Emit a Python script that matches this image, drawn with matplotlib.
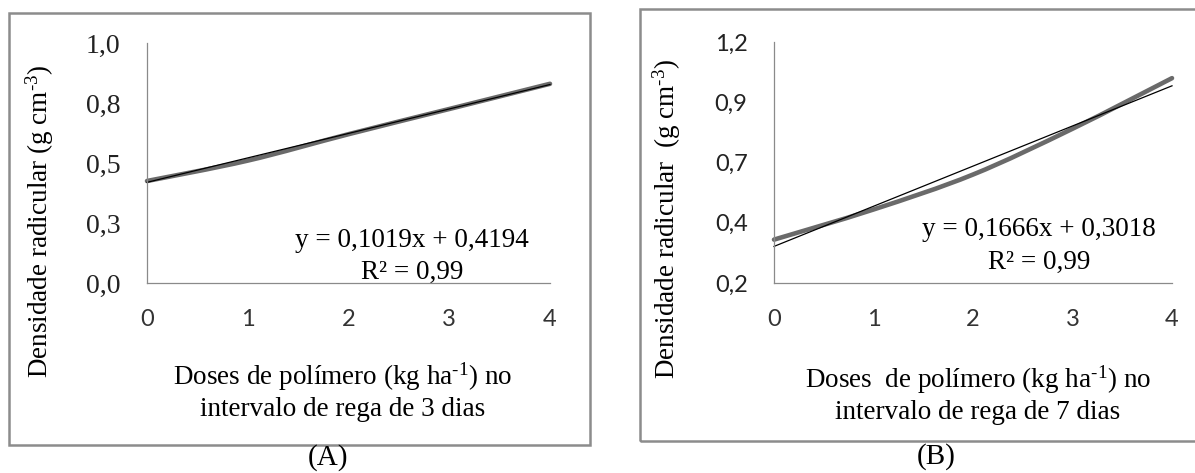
import matplotlib
matplotlib.use("Agg")
import numpy as np
import matplotlib.pyplot as plt
from matplotlib.path import Path
from matplotlib.patches import PathPatch, Rectangle

# data
doses = [0, 1, 2, 3, 4]
dens_3d = [0.425, 0.51, 0.62, 0.725, 0.83]
dens_7d = [0.33, 0.455, 0.60, 0.79, 1.0]
fit_3d = (0.1019, 0.4194)
fit_7d = (0.1666, 0.3018)

yticks_3d = [0.0, 0.25, 0.5, 0.75, 1.0]
ylabels_3d = ["0,0", "0,3", "0,5", "0,8", "1,0"]
yticks_7d = [0.15, 0.4, 0.65, 0.9, 1.15]
ylabels_7d = ["0,2", "0,4", "0,7", "0,9", "1,2"]
xticks = [0, 1, 2, 3, 4]

W, H = 1195, 473
SERIF = "Liberation Serif"
SANS = "Lato"

plt.rcParams["mathtext.fontset"] = "custom"
plt.rcParams["mathtext.rm"] = SERIF
plt.rcParams["mathtext.it"] = SERIF


def fx(px):
    return px / W


def fy(py):
    return 1 - py / H


def smooth_path(x, y):
    # excel-like smoothed line: bezier segments through the points
    pts = np.column_stack([x, y]).astype(float)
    ext = np.vstack([pts[0], pts, pts[-1]])
    verts = [pts[0]]
    codes = [Path.MOVETO]
    for i in range(1, len(ext) - 2):
        p0, p1, p2, p3 = ext[i - 1], ext[i], ext[i + 1], ext[i + 2]
        c1 = p1 + (p2 - p0) / 6.0
        c2 = p2 - (p3 - p1) / 6.0
        verts += [c1, c2, p2]
        codes += [Path.CURVE4] * 3
    return Path(verts, codes)


def panel(rect, y_vals, fit, yticks, ylabels, ylim, ytick_font, ytick_size):
    ax = fig.add_axes(rect)
    ax.set_xlim(0, 4)
    ax.set_ylim(*ylim)
    for s in ["top", "right"]:
        ax.spines[s].set_visible(False)
    for s in ["left", "bottom"]:
        ax.spines[s].set_color("#8a8a8a")
        ax.spines[s].set_linewidth(0.9)
    ax.set_xticks(xticks)
    ax.set_xticklabels([str(v) for v in xticks], fontfamily=SANS, fontsize=17, color="#333333")
    ax.set_yticks(yticks)
    ax.set_yticklabels(ylabels, fontfamily=ytick_font, fontsize=ytick_size, color="#222222")
    ax.tick_params(axis="x", length=0, pad=19)
    ax.tick_params(axis="y", length=0, pad=19)

    patch = PathPatch(smooth_path(doses, y_vals), fill=False, edgecolor="#6a6a6a",
                      linewidth=3.3, capstyle="round", clip_on=False)
    ax.add_patch(patch)
    xs = np.array([0, 4])
    ax.plot(xs, fit[0] * xs + fit[1], color="black", linewidth=0.9, clip_on=False)
    return ax


fig = plt.figure(figsize=(W / 100, H / 100), dpi=100)

# outer frames
fig.patches.append(Rectangle((fx(9), fy(445)), fx(581), 432 / H, transform=fig.transFigure,
                             fill=False, edgecolor="#8c8c8c", linewidth=1.8))
fig.patches.append(Rectangle((fx(640), fy(441)), fx(600), 432 / H, transform=fig.transFigure,
                             fill=False, edgecolor="#8c8c8c", linewidth=1.8))

sup3 = r"$^{\text{-3}}$"
sup1 = r"$^{\text{-1}}$"

# panel A
panel([fx(147), fy(283), fx(403), 240 / H], dens_3d, fit_3d, yticks_3d, ylabels_3d,
      (0, 1.0), SERIF, 20)
fig.text(fx(40), fy(221), "Densidade radicular (g cm" + sup3 + ")", rotation=90, ha="center",
         va="center", fontfamily=SERIF, fontsize=19.5)
fig.text(fx(343), fy(391), "Doses de polímero (kg ha" + sup1 + ") no\nintervalo de rega de 3 dias",
         ha="center", va="center", fontfamily=SERIF, fontsize=19.5, linespacing=1.2)
fig.text(fx(412), fy(240), "y = 0,1019x + 0,4194", ha="center", va="center",
         fontfamily=SERIF, fontsize=19.5)
fig.text(fx(412), fy(272), "R² = 0,99", ha="center", va="center", fontfamily=SERIF, fontsize=19.5)
fig.text(fx(328), fy(458), "(A)", ha="center", va="center", fontfamily=SERIF, fontsize=21)

# panel B
panel([fx(774), fy(283), fx(398), 241 / H], dens_7d, fit_7d, yticks_7d, ylabels_7d,
      (0.15, 1.15), SANS, 17)
fig.text(fx(667), fy(219), "Densidade radicular  (g cm" + sup3 + ")", rotation=90, ha="center",
         va="center", fontfamily=SERIF, fontsize=19.5)
fig.text(fx(978), fy(394), "Doses  de polímero (kg ha" + sup1 + ") no\nintervalo de rega de 7 dias",
         ha="center", va="center", fontfamily=SERIF, fontsize=19.5, linespacing=1.2)
fig.text(fx(1039), fy(230), "y = 0,1666x + 0,3018", ha="center", va="center",
         fontfamily=SERIF, fontsize=19.5)
fig.text(fx(1039), fy(262), "R² = 0,99", ha="center", va="center", fontfamily=SERIF, fontsize=19.5)
fig.text(fx(936), fy(457), "(B)", ha="center", va="center", fontfamily=SERIF, fontsize=21)

fig.savefig("out.png", dpi=100)
